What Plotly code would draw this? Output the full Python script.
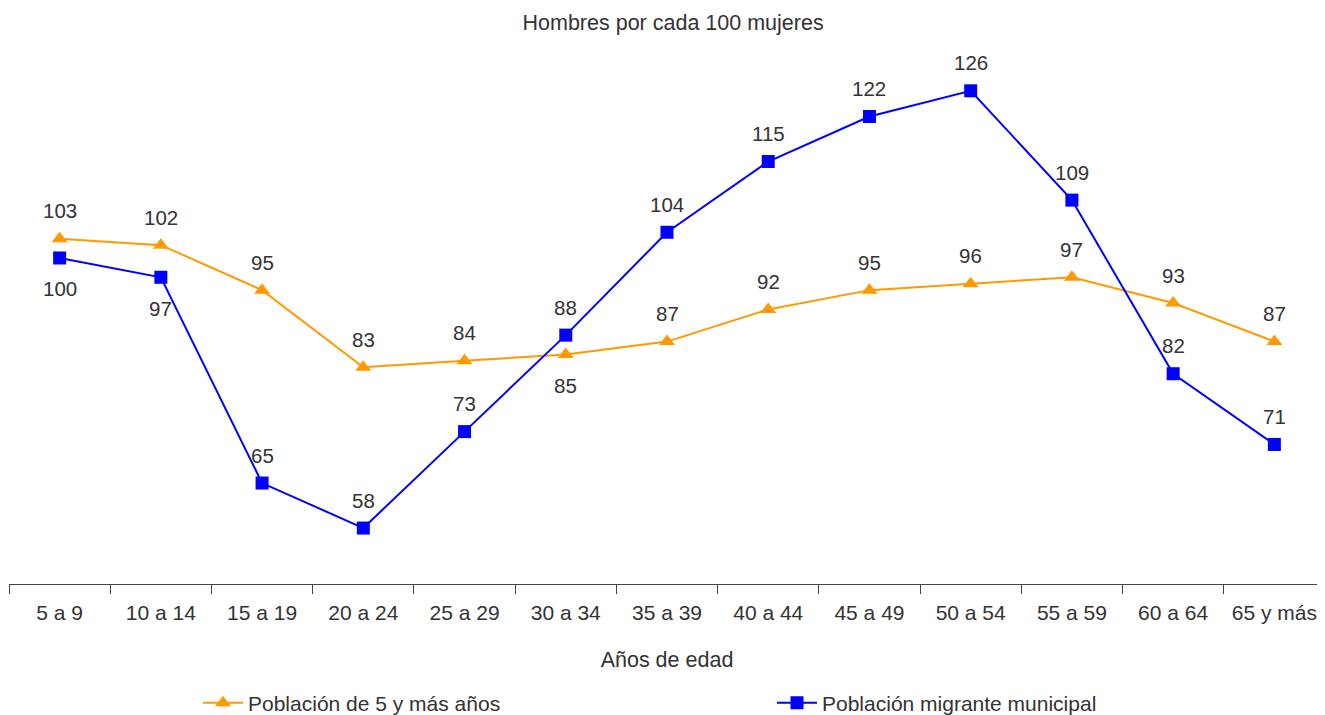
import plotly.graph_objects as go

categorias = ["5 a 9", "10 a 14", "15 a 19", "20 a 24", "25 a 29", "30 a 34", "35 a 39",
              "40 a 44", "45 a 49", "50 a 54", "55 a 59", "60 a 64", "65 y más"]
poblacion_5_mas = [103, 102, 95, 83, 84, 85, 87, 92, 95, 96, 97, 93, 87]
poblacion_migrante = [100, 97, 65, 58, 73, 88, 104, 115, 122, 126, 109, 82, 71]
# label position: 1 above, -1 below
pos_5_mas = [1, 1, 1, 1, 1, -1, 1, 1, 1, 1, 1, 1, 1]
pos_migrante = [-1, -1, 1, 1, 1, 1, 1, 1, 1, 1, 1, 1, 1]

ORANGE = "#FF9900"
BLUE = "#0000FF"
TXT = "#333333"
FONT = "Liberation Sans, Arial, sans-serif"

# the page body has an 8px margin, so the figure is 8px smaller than the window
W, H = 1317, 707

xs = list(range(len(categorias)))

fig = go.Figure()
fig.add_trace(go.Scatter(
    x=xs, y=poblacion_5_mas, mode="lines+markers", name="Población de 5 y más años",
    line=dict(color=ORANGE, width=2),
    marker=dict(symbol="triangle-up", size=14, color=ORANGE),
    legend="legend",
))
fig.add_trace(go.Scatter(
    x=xs, y=poblacion_migrante, mode="lines+markers", name="Población migrante municipal",
    line=dict(color=BLUE, width=2),
    marker=dict(symbol="square", size=13, color=BLUE),
    legend="legend2",
))

for vals, poss in ((poblacion_5_mas, pos_5_mas), (poblacion_migrante, pos_migrante)):
    for x, v, p in zip(xs, vals, poss):
        fig.add_annotation(x=x, y=v, text=str(v), showarrow=False,
                           yshift=28 if p > 0 else -31,
                           font=dict(size=20.5, color=TXT, family=FONT))

fig.update_layout(
    width=W, height=H,
    margin=dict(l=1, r=0, t=32, b=131, autoexpand=False),
    paper_bgcolor="white", plot_bgcolor="white",
    font=dict(family=FONT, color=TXT, size=21),
    title=dict(text="Hombres por cada 100 mujeres", x=0.505, xanchor="center",
               y=1 - 14 / H, yanchor="middle",
               font=dict(size=21.5, color=TXT, family=FONT)),
    xaxis=dict(
        range=[-0.5, 12.5], tickmode="array", tickvals=xs, ticktext=categorias,
        showgrid=False, zeroline=False, showline=True, linecolor="#444", linewidth=1,
        ticks="", tickfont=dict(size=21, color=TXT), automargin=False,
        ticklabelstandoff=10,
        minor=dict(tickmode="array", tickvals=[i - 0.5 for i in range(len(categorias) + 1)],
                   ticks="outside", ticklen=9, tickcolor="#444", showgrid=False),
        title=dict(text="Años de edad", font=dict(size=21.5, color=TXT), standoff=28),
    ),
    yaxis=dict(range=[49.3, 133.9], visible=False),
    showlegend=True,
    legend=dict(orientation="h", xref="container", yref="container",
                x=190 / W, xanchor="left", y=1 - 695 / H, yanchor="middle",
                itemwidth=40,
                font=dict(size=21, color=TXT), bgcolor="rgba(0,0,0,0)"),
    legend2=dict(orientation="h", xref="container", yref="container",
                 x=764 / W, xanchor="left", y=1 - 695 / H, yanchor="middle",
                 itemwidth=40,
                 font=dict(size=21, color=TXT), bgcolor="rgba(0,0,0,0)"),
)

fig.write_html("out.html")
